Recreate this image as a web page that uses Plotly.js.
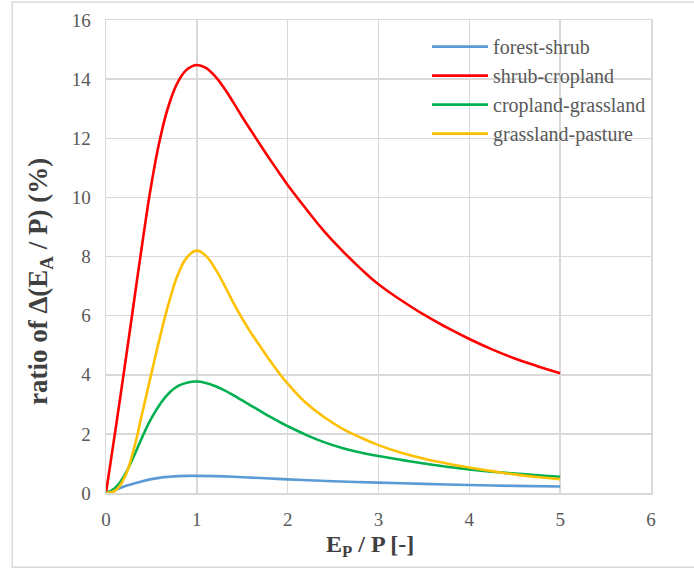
<!DOCTYPE html>
<html>
<head>
<meta charset="utf-8">
<script src="https://cdn.plot.ly/plotly-3.0.1.min.js"></script>
<style>html,body{margin:0;padding:0;background:#fff;}#chart{width:694px;height:569px;}</style>
</head>
<body>
<div id="chart"></div>
<script>
// x values (Ep / P)
var xBlue   = [0, 0.1, 0.2, 0.3, 0.4, 0.5, 0.6, 0.7, 0.8, 0.9, 1.0, 1.2, 1.4, 1.6, 1.8, 2.0, 2.5, 3.0, 3.5, 4.0, 4.5, 5.0];
var forestShrub = [0, 0.1, 0.22, 0.31, 0.4, 0.47, 0.52, 0.55, 0.57, 0.58, 0.58, 0.57, 0.55, 0.52, 0.49, 0.46, 0.4, 0.35, 0.31, 0.27, 0.24, 0.22];

var xCurve = [0, 0.1, 0.2, 0.3, 0.4, 0.5, 0.6, 0.7, 0.8, 0.9, 1.0, 1.1, 1.2, 1.3, 1.4, 1.5, 1.6, 1.7, 1.8, 1.9, 2.0, 2.2, 2.4, 2.6, 2.8, 3.0, 3.25, 3.5, 3.75, 4.0, 4.25, 4.5, 4.75, 5.0];
var shrubCropland = [0, 2.05, 4.15, 6.3, 8.45, 10.45, 12.05, 13.2, 13.95, 14.35, 14.48, 14.38, 14.1, 13.7, 13.22, 12.72, 12.24, 11.77, 11.31, 10.86, 10.42, 9.62, 8.86, 8.2, 7.6, 7.06, 6.52, 6.03, 5.6, 5.21, 4.86, 4.55, 4.29, 4.05];
var croplandGrassland = [0, 0.17, 0.58, 1.2, 1.9, 2.53, 3.03, 3.4, 3.63, 3.74, 3.77, 3.72, 3.62, 3.48, 3.31, 3.13, 2.95, 2.77, 2.59, 2.42, 2.26, 1.97, 1.72, 1.52, 1.37, 1.25, 1.12, 1.0, 0.89, 0.8, 0.72, 0.66, 0.6, 0.55];
var grasslandPasture = [0, 0.08, 0.5, 1.42, 2.72, 4.05, 5.35, 6.52, 7.45, 8.0, 8.2, 8.02, 7.6, 7.05, 6.45, 5.9, 5.4, 4.95, 4.5, 4.08, 3.7, 3.05, 2.57, 2.18, 1.88, 1.62, 1.36, 1.16, 1.0, 0.86, 0.74, 0.63, 0.54, 0.47];

var seriesNames = ['forest-shrub', 'shrub-cropland', 'cropland-grassland', 'grassland-pasture'];
var xTicks = [0, 1, 2, 3, 4, 5, 6];
var yTicks = [0, 2, 4, 6, 8, 10, 12, 14, 16];

function tr(x, y, name, color) {
  return {x: x, y: y, name: name, type: 'scatter', mode: 'lines',
          line: {color: color, width: 2.6, shape: 'spline', smoothing: 1.3}};
}
var data = [
  tr(xBlue, forestShrub, seriesNames[0], '#5b9bd5'),
  tr(xCurve, shrubCropland, seriesNames[1], '#ff0000'),
  tr(xCurve, croplandGrassland, seriesNames[2], '#00b050'),
  tr(xCurve, grasslandPasture, seriesNames[3], '#ffc000')
];

var serif = '"Liberation Serif", "Times New Roman", Times, serif';
var layout = {
  width: 694, height: 569,
  margin: {l: 106, r: 43, t: 20, b: 76},
  paper_bgcolor: '#ffffff', plot_bgcolor: '#ffffff',
  showlegend: true,
  legend: {x: 0.589, y: 0.985, xanchor: 'left', yanchor: 'top', bgcolor: 'rgba(0,0,0,0)',
           font: {family: serif, size: 20, color: '#595959'}, itemwidth: 56, tracegroupgap: 0},
  xaxis: {range: [0, 6], tickvals: xTicks, ticktext: xTicks.map(String), showgrid: true,
          gridcolor: '#d9d9d9', gridwidth: 1.5, zeroline: false, showline: true, linecolor: '#d9d9d9',
          linewidth: 1.5, mirror: true, ticks: '', ticklabelstandoff: 9,
          tickfont: {family: serif, size: 19, color: '#595959'}, fixedrange: true},
  yaxis: {range: [0, 16], tickvals: yTicks, ticktext: yTicks.map(String), showgrid: true,
          gridcolor: '#d9d9d9', gridwidth: 1.5, zeroline: false, showline: true, linecolor: '#d9d9d9',
          linewidth: 1.5, mirror: true, ticks: '', ticklabelstandoff: 10,
          tickfont: {family: serif, size: 19, color: '#595959'}, fixedrange: true},
  annotations: [
    {text: '<b>ratio of Δ(E<sub>A</sub> / P) (%)</b>', xref: 'paper', yref: 'paper',
     x: -0.122, y: 0.447, xanchor: 'center', yanchor: 'middle', textangle: -90, showarrow: false,
     font: {family: serif, size: 27, color: '#404040'}},
    {text: '<b>E<sub>P</sub> / P [-]</b>', xref: 'paper', yref: 'paper',
     x: 0.485, y: -0.112, xanchor: 'center', yanchor: 'middle', showarrow: false,
     font: {family: serif, size: 24, color: '#404040'}}
  ],
  shapes: [
    {type: 'rect', xref: 'paper', yref: 'paper', x0: -0.172, x1: 1.1, y0: -0.157, y1: 1.038,
     line: {color: '#d9d9d9', width: 1.5}, fillcolor: 'rgba(0,0,0,0)', layer: 'below'}
  ]
};

Plotly.newPlot('chart', data, layout, {displayModeBar: false, staticPlot: true});
</script>
</body>
</html>
